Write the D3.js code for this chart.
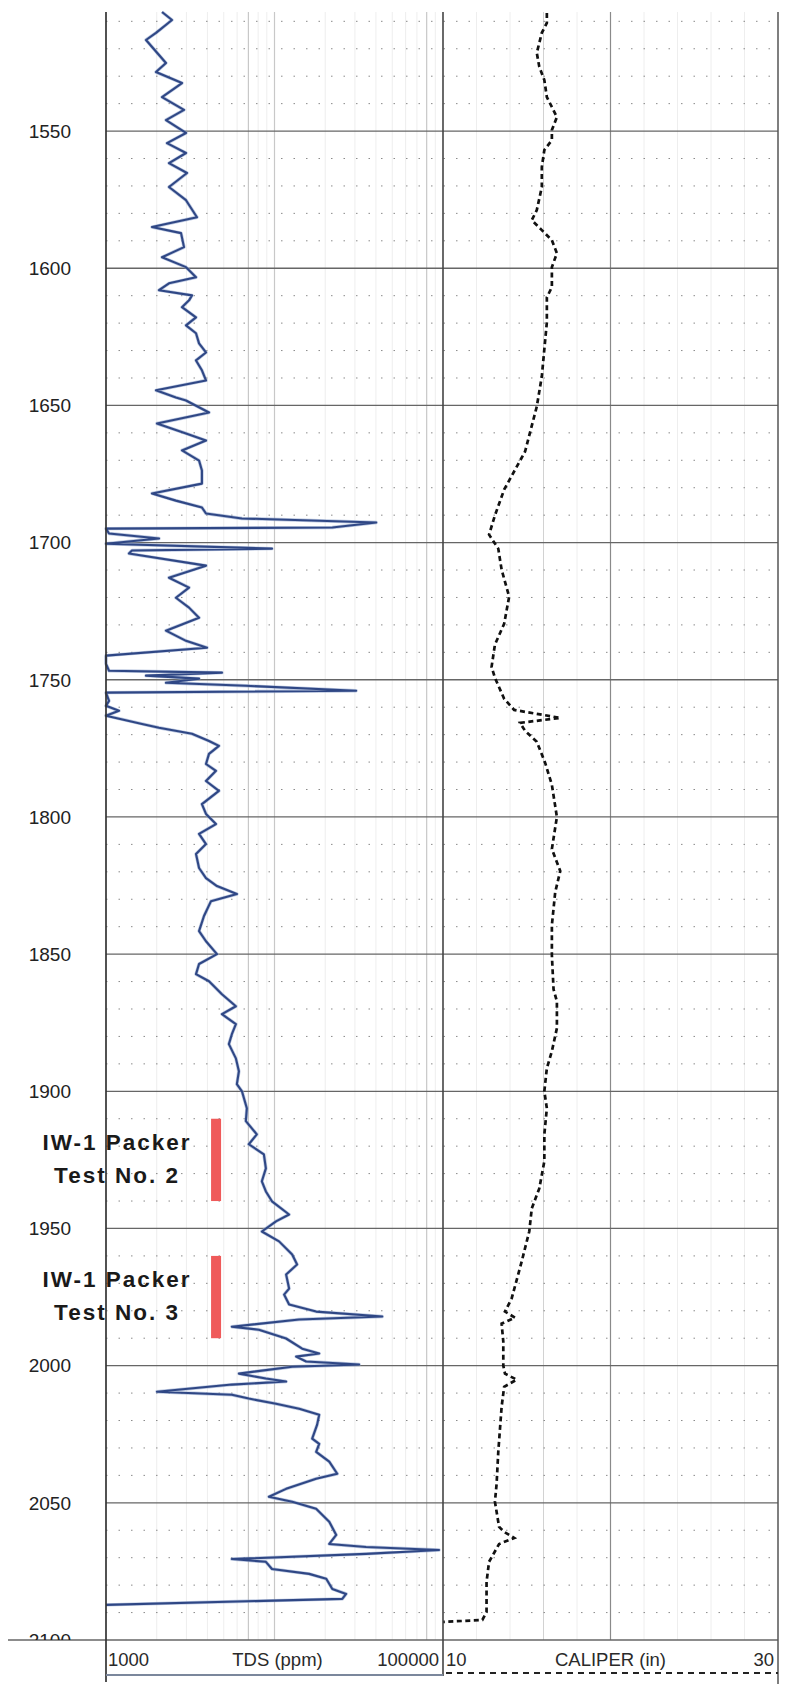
<!DOCTYPE html>
<html><head><meta charset="utf-8">
<script src="https://cdn.jsdelivr.net/npm/d3@7"></script>
<style>
body{margin:0;background:#fff;}
svg{display:block;font-family:"Liberation Sans",Arial,sans-serif;}
</style>
</head><body>
<svg id="chart" width="785" height="1684"></svg>
<script>
// ---------------- data ----------------
const depthTicks = [1550,1600,1650,1700,1750,1800,1850,1900,1950,2000,2050,2100];
const depthTickLabels = ["1550","1600","1650","1700","1750","1800","1850","1900","1950","2000","2050","2100"];
const minorDepths = [1510,1520,1530,1540,1560,1570,1580,1590,1610,1620,1630,1640,1660,1670,1680,1690,1710,1720,1730,1740,1760,1770,1780,1790,1810,1820,1830,1840,1860,1870,1880,1890,1910,1920,1930,1940,1960,1970,1980,1990,2010,2020,2030,2040,2060,2070,2080,2090];
const tdsGridStrong = [7000, 10000, 80000];
const tdsGridFaint = [2000,3000,4000,5000,6000,8000,9000,20000,30000,40000,50000,60000,70000,90000];
const calGridMain = [20];
const calGridMid = [16];
const calGridFaint = [12,14,18,22,24,26,28];
const tdsScaleLabels = ["1000","TDS (ppm)","100000"];
const calScaleLabels = ["10","CALIPER (in)","30"];
const packerTop = [1910, 1960];
const packerBottom = [1940, 1990];
const packerLine1 = ["IW-1 Packer","IW-1 Packer"];
const packerLine2 = ["Test No. 2","Test No. 3"];
const packerTds = 4500;

// [depth ft, TDS ppm]
const tdsLog = [
[1506.6,2150],[1509.5,2465],[1514.2,1980],[1516.8,1727],[1525.2,2270],[1528.5,1980],[1532.5,2825],[1537.6,2150],[1542.3,2904],[1546.0,2270],
[1550.7,2984],[1554.4,2302],[1558.0,2984],[1561.7,2365],[1565.3,3025],[1570.4,2365],[1575.2,2984],[1581.4,3467],[1585.0,1875],[1587.2,2788],
[1592.3,2904],[1596.0,2150],[1599.6,2984],[1603.3,3421],[1605.5,2365],[1608.0,2063],[1609.9,3238],
[1611.7,3110],[1614.2,2825],[1617.9,3421],[1620.8,2984],[1623.7,3421],[1627.4,3566],[1630.7,3921],[1633.6,3421],[1637.2,3709],[1640.9,3921],
[1644.5,1981],[1647.1,2599],[1648.2,2984],[1652.6,4086],[1656.6,2007],[1660.2,2984],[1662.8,3921],[1666.4,2825],[1670.1,3566],[1673.7,3709],
[1678.5,3709],[1682.1,1875],[1684.7,2599],[1687.2,3709],[1689.4,3921],[1691.2,6409],[1692.7,40140],[1694.5,22040],[1694.9,1000],[1696.7,1042],
[1698.5,2063],[1700.4,1000],[1702.2,9661],[1702.9,1426],
[1704.0,1369],[1708.4,3921],[1712.8,2365],[1716.4,3110],[1720.1,2599],[1723.7,3110],[1727.4,3566],[1732.1,2270],[1735.8,2984],[1738.3,3976],
[1741.2,1000],[1744.2,1000],[1746.7,1042],[1747.4,4876],[1748.5,1727],[1749.6,3566],[1751.1,2270],[1752.2,6761],[1754.0,30500],[1754.7,1000],
[1757.7,1042],[1759.5,1000],[1761.3,1194],[1763.1,1000],[1766.1,1636],[1767.5,2063],[1769.7,3238],[1772.3,4086],[1774.1,4679],
[1777.0,4086],[1780.7,3921],[1783.2,4495],[1786.9,3921],[1790.5,4679],[1795.3,3709],[1798.9,3921],[1802.6,4495],[1806.2,3566],[1809.9,3921],
[1813.5,3421],[1818.6,3566],[1822.3,3921],[1825.2,4556],[1828.1,5980],[1830.7,4199],[1836.1,3815],[1841.6,3566],
[1845.3,3921],[1850.0,4556],[1853.6,3566],[1857.3,3421],[1859.9,4086],[1864.6,4876],[1869.0,5899],[1871.9,4876],[1875.5,5899],[1879.2,5584],
[1882.8,5361],[1888.0,5899],[1892.7,6149],[1897.4,5980],[1900.0,6409],[1906.2,6853],[1910.9,6761],[1915.7,7855],[1919.3,7040],[1923.0,8649],
[1928.1,8888],[1932.8,8414],
[1936.5,8888],[1940.1,9661],[1944.9,12210],[1947.4,10209],[1951.1,8414],[1954.7,10640],[1959.5,12730],[1963.1,13620],[1966.8,11720],[1971.9,12210],
[1974.1,11400],[1977.7,12210],[1980.3,17670],[1982.1,43600],[1983.2,14000],[1985.8,5584],[1986.9,8070],[1990.1,11720],[1993.8,14600],[1995.6,18420],
[1996.7,13440],[1998.5,15410],[1999.6,31770],[2000.4,12730],[2002.9,6149],[2004.7,8888],[2005.8,11720],
[2006.9,5584],[2009.5,2007],[2010.6,5584],[2012.0,7040],[2013.9,10209],[2015.7,14000],[2017.9,18420],[2021.5,17910],[2026.6,16740],[2028.5,18420],
[2031.4,17670],[2035.0,21130],[2039.4,23570],[2041.2,17670],[2044.9,11720],[2047.8,9266],[2049.6,12730],[2052.2,17670],[2056.9,21130],[2061.7,23250],
[2065.0,21130],[2066.1,34960],[2067.2,94700],[2068.6,34960],[2070.5,5584],[2071.5,8888],[2074.1,9661],[2075.9,16050],[2077.7,20280],[2081.4,22040],
[2083.2,26610],[2085.0,25240],[2087.2,1000]
];

// [depth ft, caliper in]
const caliperLog = [
[1507.0,16.2],[1510.6,16.2],[1514.2,15.9],[1521.5,15.6],[1526.6,15.75],[1531.4,16.05],[1537.6,16.2],[1544.9,16.8],[1549.6,16.5],[1553.3,16.5],
[1556.9,16.05],[1563.1,15.9],[1570.4,15.9],[1578.8,15.6],[1582.5,15.3],[1586.1,15.9],[1589.8,16.5],[1594.5,16.8],[1599.6,16.5],[1606.9,16.5],
[1610.6,16.2],[1619.7,16.2],[1639.4,15.9],[1650.4,15.6],[1666.8,14.9],[1680.7,13.65],[1690.1,13.1],[1697.1,12.75],[1702.2,13.3],[1709.9,13.5],
[1719.7,13.95],[1729.6,13.65],[1737.2,13.1],[1745.3,12.9],[1749.3,13.1],[1756.9,13.65],[1761.0,14.25],[1763.9,17.0],[1765.7,14.6],[1768.6,14.9],
[1772.6,15.6],[1780.3,16.1],[1788.3,16.5],[1800.0,16.8],[1811.7,16.5],[1819.7,17.0],[1827.4,16.7],[1839.4,16.5],[1850.4,16.5],[1862.8,16.6],
[1867.2,16.8],[1877.0,16.8],[1885.4,16.5],[1891.6,16.2],[1900.0,16.05],[1906.2,16.2],[1915.7,16.05],[1925.5,16.05],[1935.4,15.75],[1942.7,15.3],
[1951.1,15.15],[1962.0,14.7],[1975.5,14.1],[1980.3,13.7],[1982.5,14.3],[1984.7,13.5],[1991.2,13.6],[2000.0,13.6],[2002.9,13.7],[2005.1,14.4],
[2007.7,13.65],[2015.0,13.5],[2031.4,13.3],[2043.1,13.2],[2049.6,13.1],[2058.8,13.35],[2060.6,13.65],[2062.8,14.25],[2065.0,13.35],[2071.5,12.75],
[2078.8,12.6],[2085.0,12.6],[2089.8,12.6],[2092.7,12.35],[2093.4,10.0]
];

// ---------------- scales ----------------
const svg = d3.select("#chart");
const y = d3.scaleLinear().domain([1506.6, 2100]).range([12, 1640]);
const xT = d3.scaleLog().domain([1000, 100000]).range([106, 443]);
const xC = d3.scaleLinear().domain([10, 30]).range([443, 778]);
const yTop = y.range()[0], yBot = y.range()[1];

// ---------------- grid ----------------
const g = svg.append("g");
g.selectAll(".tf").data(tdsGridFaint).join("line")
  .attr("x1", d => xT(d)).attr("x2", d => xT(d)).attr("y1", yTop).attr("y2", yBot)
  .attr("stroke", "#eeeeee").attr("stroke-width", 1);
g.selectAll(".ts").data(tdsGridStrong).join("line")
  .attr("x1", d => xT(d)).attr("x2", d => xT(d)).attr("y1", yTop).attr("y2", yBot)
  .attr("stroke", "#c8c8c8").attr("stroke-width", 1.2);
g.selectAll(".cf").data(calGridFaint).join("line")
  .attr("x1", d => xC(d)).attr("x2", d => xC(d)).attr("y1", yTop).attr("y2", yBot)
  .attr("stroke", "#eeeeee").attr("stroke-width", 1);
g.selectAll(".cm2").data(calGridMid).join("line")
  .attr("x1", d => xC(d)).attr("x2", d => xC(d)).attr("y1", yTop).attr("y2", yBot)
  .attr("stroke", "#d2d2d2").attr("stroke-width", 1);
g.selectAll(".cm").data(calGridMain).join("line")
  .attr("x1", d => xC(d)).attr("x2", d => xC(d)).attr("y1", yTop).attr("y2", yBot)
  .attr("stroke", "#8a8a8a").attr("stroke-width", 1.2);
g.selectAll(".hm").data(minorDepths).join("line")
  .attr("x1", xT.range()[0]).attr("x2", xC.range()[1])
  .attr("y1", d => y(d)).attr("y2", d => y(d))
  .attr("stroke", "#8a8a8a").attr("stroke-width", 1).attr("stroke-dasharray", "1.5,11");
g.selectAll(".hM").data(depthTicks).join("line")
  .attr("x1", d => d === 2100 ? 8 : xT.range()[0]).attr("x2", xC.range()[1])
  .attr("y1", d => y(d)).attr("y2", d => y(d))
  .attr("stroke", "#666").attr("stroke-width", 1.3);

// depth labels
svg.append("clipPath").attr("id", "lblclip").append("rect")
  .attr("x", 0).attr("y", 0).attr("width", 100).attr("height", yBot);
svg.append("g").attr("clip-path", "url(#lblclip)")
  .selectAll("text").data(depthTicks).join("text")
  .attr("x", 71).attr("y", d => y(d) + 6.8)
  .attr("text-anchor", "end").attr("font-size", 19).attr("fill", "#222")
  .text((d, i) => depthTickLabels[i]);

// ---------------- curves ----------------
const tdsLine = d3.line().x(d => xT(d[1])).y(d => y(d[0]));
svg.append("path").datum(tdsLog).attr("d", tdsLine)
  .attr("fill", "none").attr("stroke", "#8fa3cc").attr("stroke-width", 3.4)
  .attr("stroke-linejoin", "round").attr("opacity", 0.6);
svg.append("path").datum(tdsLog).attr("d", tdsLine)
  .attr("fill", "none").attr("stroke", "#2f4785").attr("stroke-width", 2.1)
  .attr("stroke-linejoin", "round");

const calLine = d3.line().x(d => xC(d[1])).y(d => y(d[0]));
svg.append("path").datum(caliperLog).attr("d", calLine)
  .attr("fill", "none").attr("stroke", "#111").attr("stroke-width", 2.7)
  .attr("stroke-dasharray", "5,3.5");

// ---------------- borders ----------------
svg.append("line").attr("x1", xT.range()[0]).attr("x2", xT.range()[0]).attr("y1", yTop).attr("y2", 1682)
  .attr("stroke", "#333").attr("stroke-width", 1.7);
svg.append("line").attr("x1", xT.range()[1]).attr("x2", xT.range()[1]).attr("y1", yTop).attr("y2", 1676)
  .attr("stroke", "#444").attr("stroke-width", 1.6);
svg.append("line").attr("x1", xC.range()[1]).attr("x2", xC.range()[1]).attr("y1", yTop).attr("y2", 1684)
  .attr("stroke", "#555").attr("stroke-width", 1.5);

// ---------------- packer tests ----------------
const pk = svg.append("g");
pk.selectAll("rect").data(packerTop).join("rect")
  .attr("x", xT(packerTds) - 5).attr("width", 10)
  .attr("y", d => y(d)).attr("height", (d, i) => y(packerBottom[i]) - y(d))
  .attr("fill", "#ef5a5a");
pk.selectAll(".l1").data(packerTop).join("text")
  .attr("x", 117).attr("y", d => y(d) + 31)
  .attr("text-anchor", "middle").attr("font-size", 22.5).attr("font-weight", "bold")
  .attr("letter-spacing", 2).attr("fill", "#1a1a1a")
  .text((d, i) => packerLine1[i]);
pk.selectAll(".l2").data(packerTop).join("text")
  .attr("x", 117).attr("y", d => y(d) + 64)
  .attr("text-anchor", "middle").attr("font-size", 22.5).attr("font-weight", "bold")
  .attr("letter-spacing", 2).attr("fill", "#1a1a1a")
  .text((d, i) => packerLine2[i]);

// ---------------- legend / scale header ----------------
const lg = svg.append("g").attr("font-size", 18.5).attr("fill", "#2a2a2a");
const ly = 1666;
lg.append("text").attr("x", xT.range()[0] + 2).attr("y", ly).text(tdsScaleLabels[0]);
lg.append("text").attr("x", (xT(1000) + xT(100000)) / 2 + 3).attr("y", ly).attr("text-anchor", "middle").text(tdsScaleLabels[1]);
lg.append("text").attr("x", xT.range()[1] - 4).attr("y", ly).attr("text-anchor", "end").text(tdsScaleLabels[2]);
lg.append("text").attr("x", xC.range()[0] + 3).attr("y", ly).text(calScaleLabels[0]);
lg.append("text").attr("x", (xC(10) + xC(30)) / 2).attr("y", ly).attr("text-anchor", "middle").text(calScaleLabels[1]);
lg.append("text").attr("x", xC.range()[1] - 4).attr("y", ly).attr("text-anchor", "end").text(calScaleLabels[2]);
svg.append("line").attr("x1", xT.range()[0]).attr("x2", xT.range()[1]).attr("y1", 1675).attr("y2", 1675)
  .attr("stroke", "#7b879c").attr("stroke-width", 2);
svg.append("line").attr("x1", xC.range()[0] + 3).attr("x2", xC.range()[1]).attr("y1", 1673).attr("y2", 1673)
  .attr("stroke", "#222").attr("stroke-width", 2).attr("stroke-dasharray", "6,5");
</script>
</body></html>
